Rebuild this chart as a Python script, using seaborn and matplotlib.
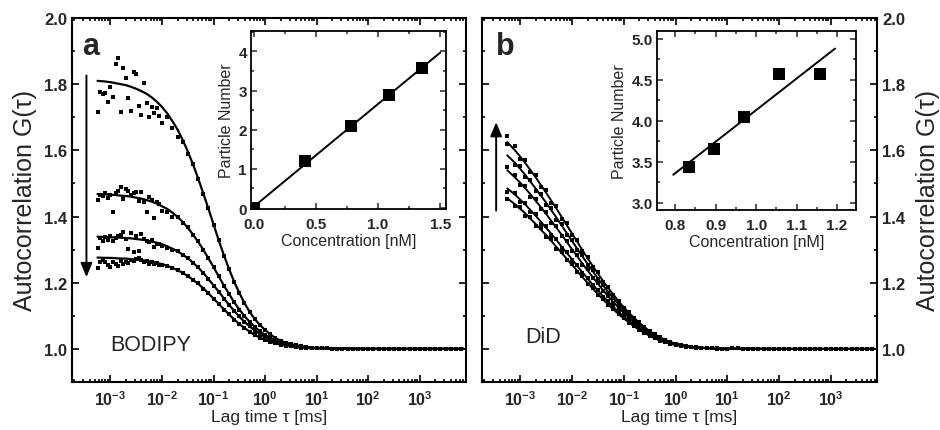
import matplotlib
matplotlib.use("Agg")
import matplotlib.pyplot as plt
import seaborn as sns
from matplotlib.ticker import MultipleLocator, LogLocator, NullFormatter

sns.set_style("ticks")
plt.rcParams["font.family"] = ["Liberation Sans", "DejaVu Sans"]
plt.rcParams["mathtext.fontset"] = "custom"
plt.rcParams["mathtext.rm"] = "Liberation Sans:bold"
plt.rcParams["mathtext.bf"] = "Liberation Sans:bold"
plt.rcParams["mathtext.default"] = "rm"

# ---------------- data ----------------
tau_early = [5.62e-4, 6.31e-4, 7.08e-4, 7.94e-4, 8.91e-4, 1.0e-3, 1.12e-3, 1.26e-3, 1.41e-3,
             1.58e-3, 1.78e-3, 2.0e-3, 2.24e-3, 2.51e-3, 2.82e-3, 3.16e-3, 3.55e-3, 3.98e-3,
             4.47e-3, 5.01e-3, 5.62e-3, 6.31e-3, 7.08e-3, 7.94e-3, 8.91e-3, 0.01]
tau_fit_early = [5.62e-4, 7.94e-4, 1.0e-3, 1.26e-3, 1.58e-3, 2.0e-3, 2.51e-3, 3.16e-3,
                 3.98e-3, 5.01e-3, 6.31e-3, 7.94e-3, 0.01]
tau_mid = [0.0126, 0.0158, 0.02, 0.0251, 0.0316, 0.0398, 0.0501, 0.0631, 0.0794, 0.1,
           0.126, 0.158, 0.2, 0.251, 0.316, 0.398, 0.501, 0.631, 0.794, 1.0,
           1.26, 1.58, 2.0, 2.51, 3.16, 3.98, 5.01, 6.31, 7.94, 10.0]
tau_tail = [12.6, 15.8, 20.0, 25.1, 31.6, 39.8, 50.1, 63.1, 79.4, 100, 126, 158, 200, 251,
            316, 398, 501, 631, 794, 1000, 1260, 1580, 2000, 2510, 3160, 3980, 5010, 6310]
tau_fit_tail = [100, 1000, 7000]

g_tail = [1.002, 1.0015, 1.001, 1.001, 1.0008, 1.0006, 1.0005, 1.0004, 1.0003, 1.0002,
          1.000, 1.001, 0.999, 1.000, 1.000, 1.001, 1.000, 0.999, 1.000, 1.000,
          1.001, 1.000, 0.999, 1.000, 1.000, 1.001, 1.000, 1.000]
fit_tail = [1.0, 1.0, 1.0]

# BODIPY measured points (early + mid)
g_a1 = [1.716, 1.775, 1.770, 1.773, 1.745, 1.790, 1.762, 1.861, 1.879, 1.717, 1.848, 1.820, 1.758,
        1.720, 1.836, 1.830, 1.735, 1.708, 1.804, 1.743, 1.700, 1.730, 1.713, 1.728, 1.705, 1.682,
        1.700, 1.668, 1.640, 1.625, 1.590, 1.560, 1.512, 1.468, 1.425, 1.373,
        1.330, 1.282, 1.240, 1.201, 1.168, 1.139, 1.111, 1.091, 1.071, 1.057,
        1.045, 1.033, 1.025, 1.019, 1.015, 1.011, 1.008, 1.006, 1.004, 1.003]
g_a2 = [1.450, 1.465, 1.462, 1.470, 1.455, 1.466, 1.413, 1.470, 1.478, 1.489, 1.453, 1.482, 1.477,
        1.465, 1.470, 1.474, 1.448, 1.474, 1.443, 1.413, 1.459, 1.450, 1.396, 1.443, 1.438, 1.417,
        1.415, 1.399, 1.398, 1.380, 1.368, 1.344, 1.325, 1.298, 1.275, 1.246,
        1.220, 1.191, 1.166, 1.141, 1.119, 1.098, 1.082, 1.066, 1.053, 1.042,
        1.033, 1.026, 1.020, 1.015, 1.011, 1.009, 1.006, 1.005, 1.0035, 1.0025]
g_a3 = [1.305, 1.335, 1.325, 1.338, 1.330, 1.342, 1.327, 1.336, 1.340, 1.345, 1.353, 1.332, 1.302,
        1.350, 1.293, 1.341, 1.296, 1.346, 1.332, 1.326, 1.323, 1.330, 1.308, 1.317, 1.318, 1.312,
        1.306, 1.300, 1.296, 1.284, 1.276, 1.259, 1.247, 1.229, 1.212, 1.191,
        1.173, 1.152, 1.134, 1.114, 1.098, 1.081, 1.068, 1.055, 1.045, 1.036,
        1.028, 1.022, 1.017, 1.013, 1.010, 1.0075, 1.0056, 1.004, 1.003, 1.0023]
g_a4 = [1.245, 1.262, 1.270, 1.263, 1.255, 1.248, 1.262, 1.258, 1.251, 1.266, 1.257, 1.262, 1.260,
        1.270, 1.266, 1.272, 1.275, 1.268, 1.262, 1.266, 1.258, 1.263, 1.256, 1.259, 1.252, 1.255,
        1.250, 1.244, 1.238, 1.229, 1.221, 1.208, 1.198, 1.182, 1.169, 1.151,
        1.137, 1.119, 1.105, 1.088, 1.075, 1.063, 1.052, 1.042, 1.034, 1.027,
        1.022, 1.017, 1.013, 1.010, 1.0075, 1.0056, 1.004, 1.003, 1.002, 1.0017]

# BODIPY fitted curves
fit_a1 = [1.810, 1.808, 1.806, 1.803, 1.800, 1.797, 1.792, 1.786, 1.779, 1.771, 1.760, 1.747, 1.731,
          1.712, 1.689, 1.663, 1.632, 1.597, 1.558, 1.516, 1.470, 1.424, 1.376,
          1.328, 1.284, 1.241, 1.203, 1.169, 1.138, 1.112, 1.090, 1.072, 1.057,
          1.044, 1.033, 1.025, 1.019, 1.0145, 1.011, 1.008, 1.006, 1.004, 1.003]
fit_a2 = [1.468, 1.467, 1.466, 1.465, 1.463, 1.462, 1.460, 1.457, 1.454, 1.450, 1.445, 1.439, 1.431,
          1.423, 1.412, 1.399, 1.384, 1.366, 1.346, 1.324, 1.300, 1.274, 1.247,
          1.219, 1.192, 1.166, 1.141, 1.119, 1.099, 1.082, 1.066, 1.053, 1.042,
          1.033, 1.026, 1.020, 1.015, 1.011, 1.009, 1.006, 1.005, 1.0035, 1.0025]
fit_a3 = [1.339, 1.338, 1.337, 1.337, 1.336, 1.335, 1.334, 1.332, 1.330, 1.328, 1.324, 1.321, 1.316,
          1.310, 1.303, 1.295, 1.285, 1.274, 1.261, 1.246, 1.230, 1.211, 1.192,
          1.173, 1.153, 1.133, 1.115, 1.097, 1.082, 1.068, 1.055, 1.045, 1.036,
          1.028, 1.022, 1.017, 1.013, 1.010, 1.0075, 1.0056, 1.004, 1.003, 1.0023]
fit_a4 = [1.276, 1.275, 1.275, 1.274, 1.273, 1.273, 1.271, 1.270, 1.268, 1.266, 1.263, 1.260, 1.256,
          1.251, 1.245, 1.238, 1.230, 1.220, 1.209, 1.197, 1.183, 1.168, 1.152,
          1.136, 1.120, 1.104, 1.089, 1.075, 1.063, 1.052, 1.042, 1.034, 1.027,
          1.0216, 1.017, 1.013, 1.010, 1.0075, 1.0056, 1.004, 1.003, 1.002, 1.0017]

# DiD measured points
g_b1 = [1.643, 1.612, 1.574, 1.570, 1.534, 1.526, 1.489, 1.480, 1.442, 1.431, 1.394, 1.380, 1.345,
        1.329, 1.296, 1.278, 1.248, 1.231, 1.203, 1.186, 1.162, 1.146, 1.125,
        1.110, 1.093, 1.080, 1.066, 1.054, 1.044, 1.035, 1.028, 1.021, 1.016,
        1.012, 1.009, 1.007, 1.005, 1.004, 1.003, 1.002, 1.0016, 1.0011, 1.0008]
g_b2 = [1.619, 1.556, 1.552, 1.518, 1.511, 1.478, 1.469, 1.436, 1.425, 1.391, 1.378, 1.345, 1.330,
        1.299, 1.284, 1.253, 1.238, 1.210, 1.194, 1.170, 1.155, 1.133, 1.119,
        1.101, 1.089, 1.073, 1.062, 1.051, 1.041, 1.033, 1.026, 1.020, 1.015,
        1.012, 1.009, 1.006, 1.005, 1.0035, 1.0026, 1.0019, 1.0015, 1.0011, 1.0008]
g_b3 = [1.549, 1.524, 1.495, 1.491, 1.460, 1.453, 1.422, 1.414, 1.381, 1.371, 1.340, 1.327, 1.297,
        1.284, 1.255, 1.240, 1.214, 1.199, 1.175, 1.161, 1.140, 1.126, 1.108,
        1.095, 1.081, 1.069, 1.057, 1.047, 1.038, 1.030, 1.024, 1.018, 1.014,
        1.011, 1.008, 1.006, 1.004, 1.003, 1.0024, 1.0018, 1.0014, 1.001, 1.0007]
g_b4 = [1.473, 1.471, 1.445, 1.441, 1.413, 1.407, 1.378, 1.371, 1.343, 1.333, 1.305, 1.293, 1.268,
        1.254, 1.229, 1.215, 1.192, 1.178, 1.158, 1.144, 1.126, 1.113, 1.097,
        1.085, 1.073, 1.062, 1.051, 1.042, 1.034, 1.027, 1.021, 1.016, 1.013,
        1.010, 1.007, 1.005, 1.004, 1.003, 1.0022, 1.0016, 1.0012, 1.0009, 1.0006]
g_b5 = [1.453, 1.431, 1.428, 1.403, 1.398, 1.371, 1.365, 1.338, 1.331, 1.303, 1.294, 1.268, 1.257,
        1.232, 1.220, 1.197, 1.184, 1.164, 1.150, 1.133, 1.120, 1.104, 1.092,
        1.079, 1.068, 1.058, 1.048, 1.040, 1.032, 1.025, 1.020, 1.015, 1.012,
        1.009, 1.007, 1.005, 1.004, 1.003, 1.002, 1.0015, 1.0011, 1.0008, 1.0006]

# DiD fitted curves
fit_b1 = [1.625, 1.600, 1.581, 1.561, 1.540, 1.518, 1.495, 1.472, 1.448, 1.424, 1.399, 1.374, 1.349,
          1.324, 1.299, 1.274, 1.251, 1.228, 1.205, 1.184, 1.164, 1.144, 1.126,
          1.109, 1.094, 1.079, 1.066, 1.054, 1.044, 1.035, 1.028, 1.021, 1.016,
          1.0125, 1.009, 1.007, 1.005, 1.004, 1.003, 1.002, 1.0016, 1.0011, 1.0008]
fit_b2 = [1.585, 1.562, 1.544, 1.525, 1.505, 1.484, 1.463, 1.442, 1.419, 1.397, 1.373, 1.350, 1.326,
          1.303, 1.280, 1.257, 1.235, 1.213, 1.192, 1.172, 1.153, 1.135, 1.118,
          1.102, 1.088, 1.074, 1.062, 1.051, 1.041, 1.033, 1.026, 1.020, 1.015,
          1.012, 1.009, 1.0064, 1.0047, 1.0035, 1.0026, 1.0019, 1.0015, 1.0011, 1.0008]
fit_b3 = [1.540, 1.518, 1.502, 1.485, 1.467, 1.447, 1.428, 1.408, 1.387, 1.366, 1.345, 1.323, 1.301,
          1.280, 1.258, 1.237, 1.217, 1.197, 1.177, 1.159, 1.141, 1.125, 1.109,
          1.0945, 1.081, 1.0686, 1.057, 1.047, 1.038, 1.030, 1.024, 1.018, 1.014,
          1.011, 1.008, 1.006, 1.0043, 1.0032, 1.0024, 1.0018, 1.0014, 1.001, 1.0007]
fit_b4 = [1.485, 1.466, 1.451, 1.436, 1.419, 1.402, 1.384, 1.366, 1.348, 1.329, 1.309, 1.290, 1.271,
          1.251, 1.232, 1.213, 1.194, 1.177, 1.159, 1.143, 1.127, 1.112, 1.098,
          1.085, 1.073, 1.062, 1.051, 1.042, 1.034, 1.027, 1.021, 1.016, 1.013,
          1.0097, 1.0073, 1.0053, 1.0039, 1.0029, 1.0022, 1.0016, 1.0012, 1.0009, 1.0006]
fit_b5 = [1.455, 1.437, 1.423, 1.409, 1.393, 1.377, 1.360, 1.344, 1.326, 1.308, 1.290, 1.272, 1.254,
          1.236, 1.217, 1.200, 1.182, 1.166, 1.149, 1.134, 1.119, 1.105, 1.092,
          1.080, 1.068, 1.058, 1.048, 1.040, 1.032, 1.025, 1.020, 1.015, 1.012,
          1.009, 1.0068, 1.005, 1.0036, 1.0027, 1.002, 1.0015, 1.0011, 1.0008, 1.0006]

# insets
conc_a = [0.0, 0.415, 0.782, 1.085, 1.352]
num_a = [0.0, 1.19, 2.09, 2.88, 3.58]
line_conc_a = [0.0, 1.5]
line_num_a = [0.03, 3.97]
conc_b = [0.833, 0.895, 0.969, 1.056, 1.157]
num_b = [3.43, 3.655, 4.04, 4.57, 4.57]
line_conc_b = [0.795, 1.195]
line_num_b = [3.34, 4.88]

xtick_vals = [1e-3, 1e-2, 1e-1, 1e0, 1e1, 1e2, 1e3]
xtick_labels = [r"$10^{-3}$", r"$10^{-2}$", r"$10^{-1}$", r"$10^{0}$",
                r"$10^{1}$", r"$10^{2}$", r"$10^{3}$"]
ytick_vals = [1.0, 1.2, 1.4, 1.6, 1.8, 2.0]
ytick_labels = ["1.0", "1.2", "1.4", "1.6", "1.8", "2.0"]

tau_fit = tau_fit_early + tau_mid
tau_a = tau_early + tau_mid + tau_tail
tau_b = tau_fit + tau_tail

# ---------------- figure ----------------
fig = plt.figure(figsize=(9.4, 4.31), dpi=100)
ax_a = fig.add_axes([0.0766, 0.1114, 0.419, 0.8446])
ax_b = fig.add_axes([0.5124, 0.1114, 0.4206, 0.8446])


def style_main(ax):
    ax.set_xscale("log")
    ax.set_xlim(1.8e-4, 7.8e3)
    ax.set_ylim(0.9, 2.0)
    ax.set_xticks(xtick_vals, xtick_labels, fontsize=11.5)
    ax.xaxis.set_minor_locator(LogLocator(base=10, subs=[2, 3, 4, 5, 6, 7, 8, 9], numticks=30))
    ax.xaxis.set_minor_formatter(NullFormatter())
    ax.set_yticks(ytick_vals, ytick_labels, fontsize=12, fontweight="bold")
    ax.yaxis.set_minor_locator(MultipleLocator(0.1))
    ax.tick_params(which="both", direction="in", top=True, right=True, width=1.2, color="black")
    ax.tick_params(which="major", length=5)
    ax.tick_params(which="minor", length=2.5)
    ax.tick_params(axis="x", pad=5)
    for s in ax.spines.values():
        s.set_linewidth(1.5)
        s.set_color("black")
    ax.set_xlabel("Lag time τ [ms]", fontsize=12.5, labelpad=1)


for g in [g_a1, g_a2, g_a3, g_a4]:
    sns.scatterplot(x=tau_a, y=g + g_tail, marker="s", s=8, color="black", linewidth=0,
                    ax=ax_a, zorder=2)
for f in [fit_a1, fit_a2, fit_a3, fit_a4]:
    sns.lineplot(x=tau_fit + tau_fit_tail, y=f + fit_tail, color="black", linewidth=1.6,
                 sort=False, estimator=None, ax=ax_a, zorder=3)

for g in [g_b1, g_b2, g_b3, g_b4, g_b5]:
    sns.scatterplot(x=tau_b, y=g + g_tail, marker="s", s=8, color="black", linewidth=0,
                    ax=ax_b, zorder=2)
for f in [fit_b1, fit_b2, fit_b3, fit_b4, fit_b5]:
    sns.lineplot(x=tau_fit + tau_fit_tail, y=f + fit_tail, color="black", linewidth=1.4,
                 sort=False, estimator=None, ax=ax_b, zorder=3)

style_main(ax_a)
style_main(ax_b)
ax_a.tick_params(axis="y", labelleft=True, labelright=False)
ax_a.set_ylabel("Autocorrelation G(τ)", fontsize=18, labelpad=5)
ax_b.tick_params(axis="y", labelleft=False, labelright=True)
ax_b.yaxis.set_label_position("right")
ax_b.set_ylabel("Autocorrelation G(τ)", fontsize=18, labelpad=8, rotation=90)

arrow_style = dict(arrowstyle="-|>,head_length=0.6,head_width=0.25", color="black",
                   lw=1.4, mutation_scale=14, shrinkA=0, shrinkB=0)
ax_a.annotate("", xy=(3.43e-4, 1.217), xytext=(3.43e-4, 1.826), arrowprops=arrow_style)
ax_b.annotate("", xy=(3.43e-4, 1.685), xytext=(3.43e-4, 1.418), arrowprops=arrow_style)

ax_a.text(0.025, 0.90, "a", transform=ax_a.transAxes, fontsize=22, fontweight="bold")
ax_b.text(0.036, 0.90, "b", transform=ax_b.transAxes, fontsize=22, fontweight="bold")
ax_a.text(0.096, 0.089, "BODIPY", transform=ax_a.transAxes, fontsize=15.5)
ax_b.text(0.11, 0.11, "DiD", transform=ax_b.transAxes, fontsize=15.5)


def style_inset(ax):
    ax.set_facecolor("white")
    ax.tick_params(which="both", direction="in", top=True, right=True, width=1.1,
                   labelsize=11, pad=3)
    ax.tick_params(axis="x", pad=6)
    ax.tick_params(which="major", length=4)
    ax.tick_params(which="minor", length=2.5)
    for s in ax.spines.values():
        s.set_linewidth(1.3)
        s.set_color("black")


ia = fig.add_axes([0.267, 0.5128, 0.2074, 0.413], zorder=5)
sns.lineplot(x=line_conc_a, y=line_num_a, color="black", linewidth=1.4, ax=ia,
             sort=False, estimator=None)
sns.scatterplot(x=conc_a, y=num_a, marker="s", s=70, color="black", linewidth=0, ax=ia,
                zorder=4)
ia.set_xlim(-0.021, 1.545)
ia.set_ylim(-0.025, 4.52)
ia.set_xticks([0.0, 0.5, 1.0, 1.5], ["0.0", "0.5", "1.0", "1.5"], fontweight="bold")
ia.set_yticks([0, 1, 2, 3, 4], ["0", "1", "2", "3", "4"], fontweight="bold")
ia.xaxis.set_minor_locator(MultipleLocator(0.25))
ia.yaxis.set_minor_locator(MultipleLocator(0.5))
style_inset(ia)
ia.set_xlabel("Concentration [nM]", fontsize=11.5, labelpad=1)
ia.set_ylabel("Particle Number", fontsize=11.5, labelpad=3)

ib = fig.add_axes([0.699, 0.5104, 0.2117, 0.4153], zorder=5)
sns.lineplot(x=line_conc_b, y=line_num_b, color="black", linewidth=1.4, ax=ib,
             sort=False, estimator=None)
sns.scatterplot(x=conc_b, y=num_b, marker="s", s=70, color="black", linewidth=0, ax=ib,
                zorder=4)
ib.set_xlim(0.755, 1.247)
ib.set_ylim(2.91, 5.094)
ib.set_xticks([0.8, 0.9, 1.0, 1.1, 1.2], ["0.8", "0.9", "1.0", "1.1", "1.2"], fontweight="bold")
ib.set_yticks([3.0, 3.5, 4.0, 4.5, 5.0], ["3.0", "3.5", "4.0", "4.5", "5.0"], fontweight="bold")
ib.xaxis.set_minor_locator(MultipleLocator(0.05))
ib.yaxis.set_minor_locator(MultipleLocator(0.25))
style_inset(ib)
ib.set_xlabel("Concentration [nM]", fontsize=11.5, labelpad=1)
ib.set_ylabel("Particle Number", fontsize=11.5, labelpad=3)

fig.savefig("out.png", dpi=100)
